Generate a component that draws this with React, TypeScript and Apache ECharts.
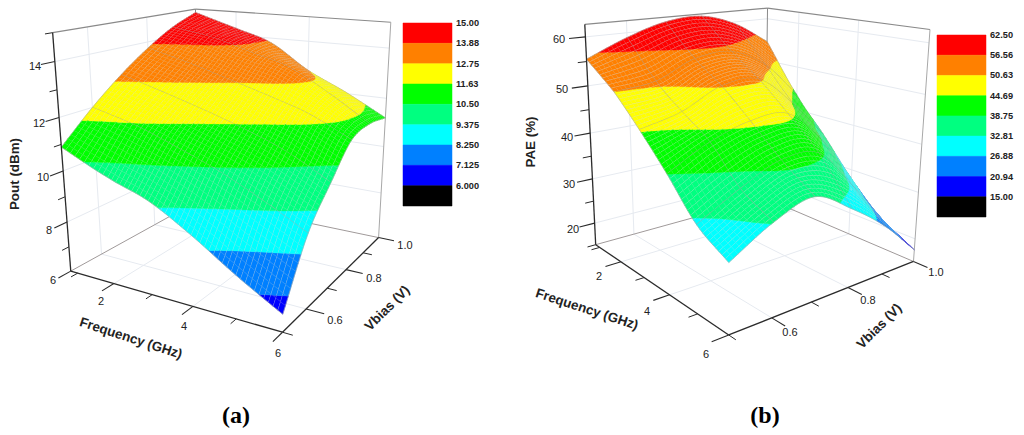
import React, { useEffect, useRef } from "react";
import * as echarts from "echarts";

// ---------- data ----------
const frequencyGHz = [0.8, 2, 3, 4, 5, 6];
const vbiasV = [0.5, 0.6, 0.7, 0.8, 0.9, 1.0];

const poutAt050 = [10.9, 10.1, 9.55, 8.65, 7.6, 6.65];
const poutAt060 = [12.0, 11.55, 11.0, 10.4, 9.65, 8.8];
const poutAt070 = [12.95, 12.45, 12.0, 11.5, 10.9, 10.05];
const poutAt080 = [13.75, 13.3, 12.85, 12.4, 11.9, 11.15];
const poutAt090 = [14.4, 14.1, 13.65, 13.2, 12.35, 11.35];
const poutAt100 = [14.85, 14.3, 13.8, 12.8, 12.05, 11.2];

const paeAt050 = [55.5, 50.6, 45, 38.8, 32, 28.3];
const paeAt060 = [59, 51.5, 47, 43, 36.5, 33];
const paeAt070 = [61.5, 55, 50.8, 45.5, 40, 35.5];
const paeAt080 = [62, 55.5, 51, 45.5, 39.5, 31];
const paeAt090 = [59.5, 51.5, 44.5, 38.5, 31, 25.2];
const paeAt100 = [54.6, 43.5, 36, 28, 21.5, 17.6];

const poutLevelLabels = ["15.00", "13.88", "12.75", "11.63", "10.50", "9.375", "8.250", "7.125", "6.000"];
const paeLevelLabels = ["62.50", "56.56", "50.63", "44.69", "38.75", "32.81", "26.88", "20.94", "15.00"];
const bandColors = ["#ff0000", "#ff8000", "#ffff00", "#00ff00", "#00ff80", "#00ffff", "#0080ff", "#0000ff", "#000000"];

const poutMajorTicks = [6, 8, 10, 12, 14];
const poutMinorTicks = [7, 9, 11, 13, 15];
const paeMajorTicks = [20, 30, 40, 50, 60];
const paeMinorTicks = [15, 25, 35, 45, 55];
const freqMajorTicks = [2, 4, 6];
const freqMinorTicks = [1, 3, 5];
const vbiasMajorTicks = [0.6, 0.8, 1.0];
const vbiasMinorTicks = [0.5, 0.7, 0.9];

// ---------- layout ----------
const SANS = "Liberation Sans, Arial, sans-serif";
const SERIF = "Liberation Serif, Times New Roman, serif";
const SUB = 10;

const leftLayout = {
  anchors: [[70, 271], [200, 200], [378, 238], [283, 332], [53, 33], [195, 9], [391, 22]],
  zMin: 6, zMax: 15, grid: [poutAt050, poutAt060, poutAt070, poutAt080, poutAt090, poutAt100],
  levelLabels: poutLevelLabels, zMajor: poutMajorTicks, zMinor: poutMinorTicks, zGrid: [8, 10, 12, 14],
  fMajorLines: false,
  bar: { left: 403, top: 23, width: 49, height: 183 },
  zLabels: [[53, 280], [49, 230], [43, 177], [39, 123], [35, 66]],
  fLabels: [[101, 301], [184, 326], [278, 353]],
  vLabels: [[335, 320], [374, 278], [405, 245]],
  titles: [
    { text: "Pout (dBm)", x: 14, y: 174, rot: 90 },
    { text: "Frequency (GHz)", x: 131, y: 338, rot: -18 },
    { text: "Vbias (V)", x: 387, y: 308, rot: 45 },
  ],
  caption: { text: "(a)", x: 236, y: 415 },
};

const rightLayout = {
  anchors: [[597, 245], [763, 198], [915, 261], [728, 335], [584, 24], [769, 8], [929, 30]],
  zMin: 15, zMax: 62.5, grid: [paeAt050, paeAt060, paeAt070, paeAt080, paeAt090, paeAt100],
  levelLabels: paeLevelLabels, zMajor: paeMajorTicks, zMinor: paeMinorTicks, zGrid: [20, 30, 40, 50, 60],
  fMajorLines: true,
  bar: { left: 937, top: 35, width: 49, height: 182 },
  zLabels: [[573, 229], [569, 184], [567, 137], [562, 89], [559, 39]],
  fLabels: [[599, 276], [647, 311], [706, 354]],
  vLabels: [[790, 332], [868, 300], [936, 272]],
  titles: [
    { text: "PAE (%)", x: 530, y: 142, rot: 90 },
    { text: "Frequency (GHz)", x: 587, y: 309, rot: -18 },
    { text: "Vbias (V)", x: 879, y: 326, rot: 45 },
  ],
  caption: { text: "(b)", x: 765, y: 415 },
};

// ---------- projection: a camera matrix fitted to the box corners ----------
const UNIT = [[0, 0, 0], [0, 1, 0], [1, 1, 0], [1, 0, 0], [0, 0, 1], [0, 1, 1], [1, 1, 1]];

function fitCamera(anchors: number[][]) {
  const n = 11;
  const A = Array.from({ length: n }, () => new Array(n + 1).fill(0));
  const add = (row: number[], b: number) => {
    for (let r = 0; r < n; r++) {
      for (let c = 0; c < n; c++) A[r][c] += row[r] * row[c];
      A[r][n] += row[r] * b;
    }
  };
  UNIT.forEach(([X, Y, Z], k) => {
    const x = anchors[k][0] / 1000;
    const y = anchors[k][1] / 1000;
    add([X, Y, Z, 1, 0, 0, 0, 0, -x * X, -x * Y, -x * Z], x);
    add([0, 0, 0, 0, X, Y, Z, 1, -y * X, -y * Y, -y * Z], y);
  });
  for (let i = 0; i < n; i++) {
    let p = i;
    for (let r = i + 1; r < n; r++) if (Math.abs(A[r][i]) > Math.abs(A[p][i])) p = r;
    [A[i], A[p]] = [A[p], A[i]];
    for (let r = 0; r < n; r++) {
      if (r === i) continue;
      const m = A[r][i] / A[i][i];
      for (let c = i; c <= n; c++) A[r][c] -= m * A[i][c];
    }
  }
  return A.map((row, i) => row[n] / row[i]);
}

function catmull(a: number[], x: number) {
  const n = a.length;
  const i = Math.min(Math.floor(x), n - 2);
  const u = x - i;
  const p0 = i > 0 ? a[i - 1] : 2 * a[0] - a[1];
  const p1 = a[i];
  const p2 = a[i + 1];
  const p3 = i + 2 < n ? a[i + 2] : 2 * a[n - 1] - a[n - 2];
  return 0.5 * (2 * p1 + (p2 - p0) * u + (2 * p0 - 5 * p1 + 4 * p2 - p3) * u * u + (3 * p1 - p0 - 3 * p2 + p3) * u * u * u);
}

function lerpArr(a: number[], x: number) {
  const i = Math.min(Math.floor(x), a.length - 2);
  return a[i] + (a[i + 1] - a[i]) * (x - i);
}

function clip(poly: number[][], level: number, above: boolean) {
  const out: number[][] = [];
  for (let k = 0; k < poly.length; k++) {
    const a = poly[k];
    const b = poly[(k + 1) % poly.length];
    const ina = above ? a[2] >= level : a[2] <= level;
    const inb = above ? b[2] >= level : b[2] <= level;
    if (ina) out.push(a);
    if (ina !== inb) {
      const t = (level - a[2]) / (b[2] - a[2]);
      out.push([a[0] + (b[0] - a[0]) * t, a[1] + (b[1] - a[1]) * t, level]);
    }
  }
  return out;
}

function panelSeries(L: any, gridIndex: number) {
  const P = fitCamera(L.anchors);
  const fMin = frequencyGHz[0];
  const fMax = frequencyGHz[frequencyGHz.length - 1];
  const vMin = vbiasV[0];
  const vMax = vbiasV[vbiasV.length - 1];
  const project = (f: number, v: number, z: number) => {
    const X = (f - fMin) / (fMax - fMin);
    const Y = (v - vMin) / (vMax - vMin);
    const Z = (z - L.zMin) / (L.zMax - L.zMin);
    const d = P[8] * X + P[9] * Y + P[10] * Z + 1;
    return [
      (1000 * (P[0] * X + P[1] * Y + P[2] * Z + P[3])) / d,
      (1000 * (P[4] * X + P[5] * Y + P[6] * Z + P[7])) / d,
    ];
  };

  // ascending band edges
  const levels = L.levelLabels.map(Number).reverse();
  const bandOf = (k: number) => bandColors[bandColors.length - 2 - k];

  const nf = (frequencyGHz.length - 1) * SUB;
  const nv = (vbiasV.length - 1) * SUB;
  const nodes: number[][][] = [];
  for (let j = 0; j <= nv; j++) {
    const row: number[][] = [];
    for (let i = 0; i <= nf; i++) {
      const s = i / SUB;
      const t = j / SUB;
      const z = catmull(L.grid.map((r: number[]) => catmull(r, s)), t);
      const p = project(lerpArr(frequencyGHz, s), lerpArr(vbiasV, t), z);
      row.push([p[0], p[1], z]);
    }
    nodes.push(row);
  }

  const cells: number[][] = [];
  for (let j = nv - 1; j >= 0; j--) for (let i = 0; i < nf; i++) cells.push([i, j]);

  const surface = {
    type: "custom",
    coordinateSystem: "cartesian2d",
    xAxisIndex: gridIndex,
    yAxisIndex: gridIndex,
    clip: false,
    silent: true,
    data: cells,
    renderItem: (_p: any, api: any) => {
      const i = api.value(0);
      const j = api.value(1);
      const a = nodes[j][i];
      const b = nodes[j][i + 1];
      const c = nodes[j + 1][i + 1];
      const d = nodes[j + 1][i];
      const quad = [a, b, c, d];
      const children: any[] = [];
      const zs = quad.map((q) => q[2]);
      const zLo = Math.min(...zs);
      const zHi = Math.max(...zs);
      for (let k = 0; k < levels.length - 1; k++) {
        const lo = levels[k];
        const hi = k === levels.length - 2 ? Infinity : levels[k + 1];
        if (zHi < lo || zLo > hi) continue;
        let poly = clip(quad, lo, true);
        if (hi !== Infinity && poly.length) poly = clip(poly, hi, false);
        if (poly.length < 3) continue;
        const col = bandOf(k);
        children.push({
          type: "polygon",
          shape: { points: poly.map((q) => api.coord([q[0], q[1]])) },
          style: { fill: col, stroke: col, lineWidth: 0.4 },
        });
      }
      const seg = (p: number[], q: number[], stroke: string, w: number) => {
        const A = api.coord([p[0], p[1]]);
        const B = api.coord([q[0], q[1]]);
        children.push({ type: "line", shape: { x1: A[0], y1: A[1], x2: B[0], y2: B[1] }, style: { stroke, lineWidth: w } });
      };
      const major = "rgba(165,165,165,0.95)";
      const edge = "rgba(165,165,165,0.85)";
      // constant-Vbias edge toward the viewer
      if (j % SUB === 0 && j > 0) seg(a, b, major, 1.1);
      else if (j === 0) seg(a, b, edge, 0.7);
      else seg(a, b, "rgba(200,200,200,0.6)", 0.6);
      // constant-frequency edge toward the viewer
      if (i === nf - 1) seg(b, c, edge, 0.7);
      else if (L.fMajorLines && (i + 1) % SUB === 0) seg(b, c, major, 1.1);
      else seg(b, c, "rgba(215,215,215,0.9)", 1);
      if (j === nv - 1) seg(d, c, edge, 0.7);
      if (i === 0) seg(a, d, edge, 0.7);
      return { type: "group", children };
    },
  };

  // frame segments
  type Seg = { a: number[]; b: number[]; color: string; width: number };
  const wall = "#e6eaf0";
  const grey = "#8a8a8a";
  const dark = "#2b2b2b";
  const back: Seg[] = [];
  const front: Seg[] = [];
  const fTop = L.zMax;
  const zBot = L.zMin;
  const fGridVals = [2, 4];
  const vGridVals = [0.6, 0.8];
  L.zGrid.forEach((z: number) => {
    back.push({ a: [fMin, vMin, z], b: [fMin, vMax, z], color: wall, width: 1 });
    back.push({ a: [fMin, vMax, z], b: [fMax, vMax, z], color: wall, width: 1 });
  });
  fGridVals.forEach((f) => {
    back.push({ a: [f, vMax, zBot], b: [f, vMax, fTop], color: wall, width: 1 });
    back.push({ a: [f, vMin, zBot], b: [f, vMax, zBot], color: wall, width: 1 });
  });
  vGridVals.forEach((v) => {
    back.push({ a: [fMin, v, zBot], b: [fMin, v, fTop], color: wall, width: 1 });
    back.push({ a: [fMin, v, zBot], b: [fMax, v, zBot], color: wall, width: 1 });
  });
  back.push({ a: [fMin, vMin, fTop], b: [fMin, vMax, fTop], color: grey, width: 1.2 });
  back.push({ a: [fMin, vMax, fTop], b: [fMax, vMax, fTop], color: grey, width: 1.2 });
  back.push({ a: [fMin, vMax, zBot], b: [fMin, vMax, fTop], color: grey, width: 1 });
  back.push({ a: [fMax, vMax, zBot], b: [fMax, vMax, fTop], color: "#a8a8a8", width: 1 });
  back.push({ a: [fMin, vMin, zBot], b: [fMin, vMax, zBot], color: "#a09a9a", width: 1 });
  back.push({ a: [fMin, vMax, zBot], b: [fMax, vMax, zBot], color: "#a09a9a", width: 1 });

  const T = 0.075;
  front.push({ a: [fMin, vMin, zBot], b: [fMin, vMin, fTop], color: dark, width: 1.3 });
  front.push({ a: [fMin, vMin, zBot], b: [fMax, vMin, zBot], color: dark, width: 1.3 });
  front.push({ a: [fMax, vMin, zBot], b: [fMax, vMax, zBot], color: dark, width: 1.3 });
  const dv = (vMax - vMin) * T;
  const df = (fMax - fMin) * T;
  L.zMajor.forEach((z: number) => front.push({ a: [fMin, vMin, z], b: [fMin, vMin - dv, z], color: dark, width: 1.1 }));
  L.zMinor.forEach((z: number) => front.push({ a: [fMin, vMin, z], b: [fMin, vMin - dv * 0.55, z], color: dark, width: 1 }));
  freqMajorTicks.forEach((f) => front.push({ a: [f, vMin, zBot], b: [f, vMin - dv, zBot], color: dark, width: 1.1 }));
  freqMinorTicks.forEach((f) => front.push({ a: [f, vMin, zBot], b: [f, vMin - dv * 0.55, zBot], color: dark, width: 1 }));
  vbiasMajorTicks.forEach((v) => front.push({ a: [fMax, v, zBot], b: [fMax + df, v, zBot], color: dark, width: 1.1 }));
  vbiasMinorTicks.forEach((v) => front.push({ a: [fMax, v, zBot], b: [fMax + df * 0.55, v, zBot], color: dark, width: 1 }));

  const segSeries = (segs: Seg[]) => ({
    type: "custom",
    coordinateSystem: "cartesian2d",
    xAxisIndex: gridIndex,
    yAxisIndex: gridIndex,
    clip: false,
    silent: true,
    data: segs.map((_, k) => [k]),
    renderItem: (_p: any, api: any) => {
      const s = segs[api.value(0)];
      const pa = project(s.a[0], s.a[1], s.a[2]);
      const pb = project(s.b[0], s.b[1], s.b[2]);
      const A = api.coord(pa);
      const B = api.coord(pb);
      return { type: "line", shape: { x1: A[0], y1: A[1], x2: B[0], y2: B[1] }, style: { stroke: s.color, lineWidth: s.width } };
    },
  });

  return [segSeries(back), surface, segSeries(front)];
}

function barSeries(gridIndex: number) {
  return {
    type: "custom",
    coordinateSystem: "cartesian2d",
    xAxisIndex: gridIndex,
    yAxisIndex: gridIndex,
    silent: true,
    clip: false,
    data: bandColors.map((_, k) => [k]),
    renderItem: (_p: any, api: any) => {
      const k = api.value(0);
      const a = api.coord([0, k]);
      const b = api.coord([1, k + 1]);
      return {
        type: "rect",
        shape: { x: a[0], y: a[1], width: b[0] - a[0], height: b[1] - a[1] },
        style: { fill: bandColors[k], stroke: bandColors[k], lineWidth: 0.5 },
      };
    },
  };
}

function textEls(L: any) {
  const out: any[] = [];
  const num = (text: string, p: number[]) =>
    out.push({
      type: "text", x: p[0], y: p[1], silent: true,
      style: { text, fill: "#222", font: `11px ${SANS}`, align: "center", verticalAlign: "middle" },
    });
  L.zMajor.forEach((z: number, k: number) => num(String(z), L.zLabels[k]));
  freqMajorTicks.forEach((f, k) => num(String(f), L.fLabels[k]));
  vbiasMajorTicks.forEach((v, k) => num(v.toFixed(1), L.vLabels[k]));
  L.titles.forEach((t: any) =>
    out.push({
      type: "text", x: t.x, y: t.y, rotation: (t.rot * Math.PI) / 180, silent: true,
      style: { text: t.text, fill: "#222", font: `bold 13.4px ${SANS}`, align: "center", verticalAlign: "middle" },
    })
  );
  out.push({
    type: "text", x: L.caption.x, y: L.caption.y, silent: true,
    style: { text: L.caption.text, fill: "#000", font: `bold 24px ${SERIF}`, align: "center", verticalAlign: "middle" },
  });
  return out;
}

function plainAxis(gridIndex: number, min: number, max: number, inverse = false) {
  return { type: "value", gridIndex, min, max, inverse, show: false };
}

function barYAxis(gridIndex: number, labels: string[]) {
  return {
    type: "value", gridIndex, min: 0, max: 9, interval: 1, inverse: true, position: "right",
    axisLine: { show: false }, axisTick: { show: false }, splitLine: { show: false },
    axisLabel: {
      show: true, margin: 4, color: "#222", fontFamily: SANS, fontWeight: "bold", fontSize: 9.2,
      showMinLabel: true, showMaxLabel: false, overflow: "none", width: 60,
      formatter: (value: number) => labels[value] ?? "",
    },
  };
}

export default function App() {
  const ref = useRef<HTMLDivElement>(null);
  useEffect(() => {
    document.body.style.margin = "0";
    const chart = echarts.init(ref.current!, undefined, { renderer: "svg" });
    chart.setOption({
      animation: false,
      backgroundColor: "#fff",
      tooltip: { show: false },
      grid: [
        { left: 0, top: 0, width: 1024, height: 435, outerBoundsMode: "none" },
        { left: leftLayout.bar.left, top: leftLayout.bar.top, width: leftLayout.bar.width, height: leftLayout.bar.height, outerBoundsMode: "none" },
        { left: rightLayout.bar.left, top: rightLayout.bar.top, width: rightLayout.bar.width, height: rightLayout.bar.height, outerBoundsMode: "none" },
      ],
      xAxis: [plainAxis(0, 0, 1024), plainAxis(1, 0, 1), plainAxis(2, 0, 1)],
      yAxis: [plainAxis(0, 0, 435, true), barYAxis(1, poutLevelLabels), barYAxis(2, paeLevelLabels)],
      graphic: { elements: [...textEls(leftLayout), ...textEls(rightLayout)] },
      series: [...panelSeries(leftLayout, 0), ...panelSeries(rightLayout, 0), barSeries(1), barSeries(2)],
    });
    return () => chart.dispose();
  }, []);
  return <div ref={ref} style={{ width: 1024, height: 435 }} />;
}
